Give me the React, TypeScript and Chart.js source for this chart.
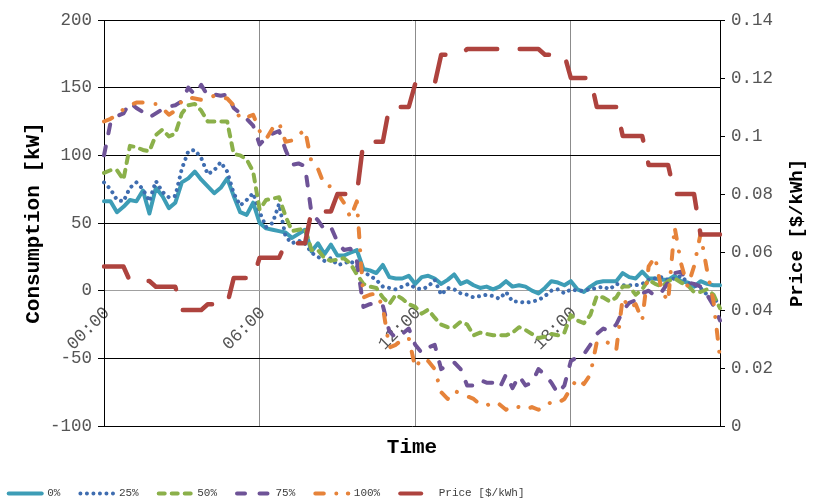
import React, { useEffect, useRef } from 'react';
import { Chart, registerables } from 'chart.js';

Chart.register(...registerables);

// 15-minute time slots (categories)
const timeLabels: string[] = Array.from({ length: 96 }, (_, i) =>
  `${String(Math.floor(i / 4)).padStart(2, '0')}:${String((i % 4) * 15).padStart(2, '0')}`
);

const seriesNames = ['0%', '25%', '50%', '75%', '100%'];
const priceName = 'Price [$/kWh]';
const yTitle = 'Consumption [kW]';
const xTitle = 'Time';

const load0 = [
  66, 66, 58, 62, 67, 66, 74, 57, 76, 70, 61, 65, 80, 83, 88, 82, 77, 72, 76, 83, 70, 58, 56, 65,
  50, 46, 45, 44, 43, 39, 42, 45, 29, 35, 27, 34, 26, 26, 28, 30, 16, 15, 13, 19, 10, 9, 9, 11,
  5, 10, 11, 9, 5, 8, 12, 5, 7, 4, 2, 3, 1, 3, 7, 3, 4, 3, 0, -2, 2, 7, 6, 4,
  7, 1, -1, 3, 6, 7, 7, 7, 13, 10, 9, 14, 9, 9, 8, 8, 11, 7, 6, 3, 7, 5, 4, 4,
];
const load25 = [
  80, 75, 67, 66, 76, 80, 75, 66, 81, 73, 69, 70, 90, 103, 104, 98, 86, 89, 95, 88, 72, 63, 67, 72,
  58, 47, 50, 64, 40, 35, 37, 35, 28, 25, 22, 24, 19, 20, 22, 18, 14, 11, 8, 3, 2, 1, 3, 5,
  2, 1, 3, 8, -3, 2, 1, -2, -3, -5, -4, -3, -4, -6, -1, -8, -8, -9, -8, -7, -4, 0, 1, -2,
  1, 0, 0, 1, 2, 3, 1, 5, 4, 4, 4, 5, 8, 9, 10, 8, 9, 11, 6, 4, 2, -3, -5, -11,
];
const load50 = [
  87, 89, 89, 82, 107, 106, 104, 103, 115, 119, 114, 116, 131, 137, 138, 133, 125, 125, 125, 125, 101, 100, 97, 88,
  60, 67, 68, 69, 55, 44, 45, 46, 30, 30, 24, 22, 23, 24, 20, 12, 5, 3, 2, -5, -10, -3, -6, -10,
  -12, -17, -14, -20, -25, -27, -27, -23, -25, -33, -31, -32, -33, -33, -33, -31, -27, -29, -32, -35, -34, -32, -33, -31,
  -18, -22, -24, -18, -4, -5, -8, -5, 3, 3, -3, 1, 8, 5, 3, 7, 9, 6, 4, -1, -1, 1, -3, -13,
];
const load75 = [
  100, 124, 129, 131, 139, 135, 132, 128, 131, 134, 136, 137, 140, 150, 145, 152, 144, 145, 144, 145, 135, 131, 127, 122,
  108, 113, 116, 118, 104, 93, 94, 92, 57, 52, 45, 47, 36, 30, 31, 22, -12, -10, -9, -11, -30, -35, -32, -28,
  -40, -46, -42, -40, -58, -55, -53, -58, -70, -70, -66, -68, -68, -72, -62, -72, -63, -70, -68, -58, -62, -68, -76, -70,
  -52, -49, -47, -40, -32, -28, -30, -25, -15, -9, -7, -2, 0, -4, -1, 6, 13, 14, 6, 5, 3, -3, -11, -22,
];
const load100 = [
  125, 127, 130, 134, 137, 139, 139, 138, 138, 135, 130, 133, 140, 143, 142, 141, 142, 144, 143, 142, 137, 127, 128, 130,
  118, 112, 120, 124, 110, 111, 115, 119, 95, 90, 78, 77, 72, 65, 54, 66, -5, -3, -2, -12, -42, -40, -36, -35,
  -57, -50, -52, -58, -75, -80, -74, -76, -78, -80, -84, -85, -82, -84, -88, -85, -86, -88, -86, -88, -86, -82, -83, -80,
  -72, -65, -69, -62, -38, -37, -39, -44, -5, -13, -10, -22, 18, 25, 0, -8, 47, 20, 3, 18, 42, 15, -8, -50,
];
const price = [
  0.055, 0.055, 0.055, 0.055, 0.05, 0.05, 0.05, 0.05, 0.048, 0.048, 0.048, 0.048,
  0.04, 0.04, 0.04, 0.04, 0.042, 0.042, 0.042, 0.042, 0.051, 0.051, 0.051, 0.051,
  0.058, 0.058, 0.058, 0.058, 0.063, 0.063, 0.063, 0.063, 0.074, 0.074, 0.074, 0.074,
  0.08, 0.08, 0.08, 0.08, 0.098, 0.098, 0.098, 0.098, 0.11, 0.11, 0.11, 0.11,
  0.118, 0.118, 0.118, 0.118, 0.128, 0.128, 0.128, 0.128, 0.13, 0.13, 0.13, 0.13,
  0.13, 0.13, 0.13, 0.13, 0.13, 0.13, 0.13, 0.13, 0.128, 0.128, 0.128, 0.128,
  0.12, 0.12, 0.12, 0.12, 0.11, 0.11, 0.11, 0.11, 0.1, 0.1, 0.1, 0.1,
  0.09, 0.09, 0.09, 0.09, 0.08, 0.08, 0.08, 0.08, 0.066, 0.066, 0.066, 0.066,
];

const yMin = -100;
const yMax = 200;
const yStep = 50;
const y1Min = 0;
const y1Max = 0.14;
const y1Step = 0.02;

export default function App() {
  const ref = useRef<HTMLCanvasElement>(null);

  useEffect(() => {
    document.body.style.margin = '0';
    const canvas = ref.current;
    if (!canvas) return;

    const mono = '"Liberation Mono", "Courier New", monospace';
    const tickFont = { family: mono, size: 17.5 };
    const titleFont = { family: mono, size: 21, weight: 'bold' as const };
    const tickColor = '#555555';

    const styles = [
      { color: '#3D9DB6', width: 4, dash: [] as number[], lDash: [] as number[] },
      { color: '#3F6DB0', width: 4, dash: [0.01, 6.5], lDash: [0.01, 6.5] },
      { color: '#8BB04A', width: 4, dash: [7, 7], lDash: [6, 7] },
      { color: '#6E5397', width: 4, dash: [9, 13.5], lDash: [8, 14.5] },
      { color: '#E6833A', width: 4, dash: [9, 13, 0.01, 13], lDash: [8.5, 12.5, 0.01, 11.5] },
      { color: '#AE433E', width: 4.5, dash: [31.5, 22.5], lDash: [21, 12, 0.01, 12] },
    ];

    const loads = [load0, load25, load50, load75, load100];
    const datasets: any[] = loads.map((d, i) => ({
      label: seriesNames[i],
      data: d,
      xAxisID: 'x',
      yAxisID: 'y',
      borderColor: styles[i].color,
      backgroundColor: styles[i].color,
      borderWidth: styles[i].width,
      borderDash: styles[i].dash,
      borderCapStyle: 'round',
      borderJoinStyle: 'round',
      pointRadius: 0,
      pointHoverRadius: 0,
      tension: 0,
      fill: false,
      order: 5 - i,
    }));
    datasets.push({
      label: priceName,
      data: price,
      xAxisID: 'x',
      yAxisID: 'y1',
      borderColor: styles[5].color,
      backgroundColor: styles[5].color,
      borderWidth: styles[5].width,
      borderDash: styles[5].dash,
      borderCapStyle: 'round',
      borderJoinStyle: 'round',
      pointRadius: 0,
      pointHoverRadius: 0,
      tension: 0,
      fill: false,
      order: 0,
    });

    const layoutFix = {
      id: 'layoutFix',
      beforeDraw(chart: any) {
        const l = chart.legend;
        if (l) {
          l.left = -11.3;
          l.top = 468;
        }
      },
      afterDraw(chart: any) {
        const { ctx } = chart;
        ctx.save();
        ctx.translate(797, 233);
        ctx.rotate(-Math.PI / 2);
        ctx.font = `bold 19px ${mono}`;
        ctx.fillStyle = '#000';
        ctx.textAlign = 'center';
        ctx.textBaseline = 'middle';
        ctx.fillText(priceName, 0, 0);
        ctx.restore();
      },
    };

    const chart = new Chart(canvas, {
      type: 'line',
      data: { labels: timeLabels, datasets },
      options: {
        animation: false,
        responsive: false,
        devicePixelRatio: 1,
        events: [],
        layout: { padding: { top: 20, left: 0, right: 0, bottom: 0 } },
        plugins: {
          tooltip: { enabled: false },
          legend: {
            display: true,
            position: 'bottom',
            align: 'start',
            labels: {
              usePointStyle: true,
              pointStyle: 'line',
              pointStyleWidth: 33,
              padding: 20,
              color: '#404040',
              font: { family: mono, size: 11 },
              sort: (a: any, b: any) => a.datasetIndex - b.datasetIndex,
              generateLabels: (c: any) => {
                const items = (Chart.defaults.plugins.legend.labels as any).generateLabels(c);
                items.forEach((it: any) => {
                  const s = styles[it.datasetIndex];
                  it.lineDash = s.lDash;
                  it.lineDashOffset = 0;
                  it.lineCap = 'round';
                  it.lineWidth = 4;
                  it.pointStyle = 'line';
                });
                return items;
              },
            },
          },
        },
        scales: {
          x: {
            type: 'category',
            position: { y: 0 } as any,
            offset: false,
            afterFit: (s: any) => { s.height = 0; },
            grid: {
              display: true,
              drawTicks: false,
              color: (c: any) => (c.index % 24 === 0 && c.index !== 0 ? '#8c8c8c' : 'rgba(0,0,0,0)'),
              lineWidth: 1,
            },
            border: { display: true, color: '#a0a0a0', width: 1 },
            ticks: {
              autoSkip: false,
              maxRotation: 45,
              minRotation: 45,
              padding: 12,
              labelOffset: 3,
              color: tickColor,
              font: tickFont,
              callback: (_v: any, i: number) => (i % 24 === 0 ? timeLabels[i] : ''),
            },
          },
          xTitle: {
            type: 'linear',
            position: 'bottom',
            display: true,
            afterFit: (s: any) => { s.height = 34; },
            grid: { display: false, drawTicks: false },
            border: { display: false },
            ticks: { display: false },
            title: { display: true, text: xTitle, color: '#000', font: titleFont, padding: 0 },
          },
          y: {
            type: 'linear',
            position: 'left',
            min: yMin,
            max: yMax,
            afterFit: (s: any) => { s.width = 104; },
            ticks: { stepSize: yStep, padding: 6, color: tickColor, font: tickFont },
            grid: {
              color: (c: any) => (c.tick && c.tick.value === 0 ? 'rgba(0,0,0,0)' : '#000'),
              tickColor: '#000',
              tickLength: 6,
              lineWidth: 1,
            },
            border: { display: true, color: '#000', width: 1 },
            title: {
              display: true,
              text: yTitle,
              color: '#000',
              font: titleFont,
              padding: { top: 21, bottom: 0 },
            },
          },
          y1: {
            type: 'linear',
            position: 'right',
            min: y1Min,
            max: y1Max,
            afterFit: (s: any) => { s.width = 103; },
            ticks: {
              stepSize: y1Step,
              padding: 6,
              color: tickColor,
              font: tickFont,
              callback: (v: any) => String(Number(Number(v).toFixed(2))),
            },
            grid: { drawOnChartArea: false, tickColor: '#000', tickLength: 5 },
            border: { display: true, color: '#000', width: 1 },
          },
        },
      } as any,
      plugins: [layoutFix],
    });

    return () => chart.destroy();
  }, []);

  return (
    <div style={{ width: 823, height: 501 }}>
      <canvas ref={ref} width={823} height={501} style={{ display: 'block', width: 823, height: 501 }} />
    </div>
  );
}
